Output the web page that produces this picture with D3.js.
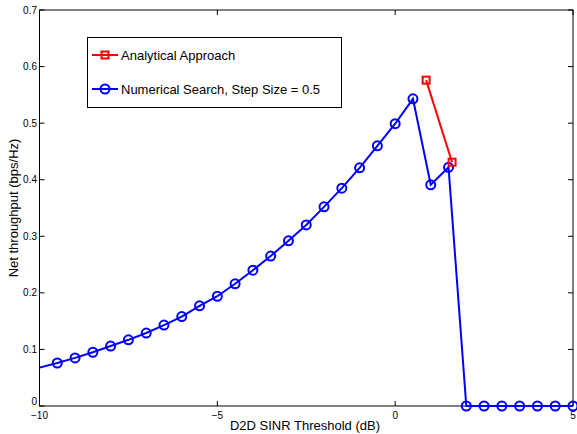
<!DOCTYPE html>
<html><head><meta charset="utf-8">
<script src="https://cdn.jsdelivr.net/npm/d3@7"></script>
<style>body{margin:0;background:#fff}svg{display:block}text{font-family:"Liberation Sans",Arial,sans-serif;fill:#000}</style>
</head><body><svg id="c" width="577" height="434"></svg>
<script>
const numX = [-10.5,-9.5,-9,-8.5,-8,-7.5,-7,-6.5,-6,-5.5,-5,-4.5,-4,-3.5,-3,-2.5,-2,-1.5,-1,-0.5,0,0.5,1,1.5,2,2.5,3,3.5,4,4.5,5];
const numY = [0.060,0.076,0.085,0.095,0.106,0.117,0.129,0.143,0.158,0.177,0.194,0.216,0.240,0.265,0.292,0.320,0.352,0.385,0.421,0.460,0.499,0.543,0.391,0.422,0,0,0,0,0,0,0];
const anaX = [0.87,1.6];
const anaY = [0.576,0.431];
const xTicks = [-10,-5,0,5];
const yTicks = [0,0.1,0.2,0.3,0.4,0.5,0.6,0.7];
const legendLabels = ["Analytical Approach","Numerical Search, Step Size = 0.5"];

const L=39.5,R=573,T=10,B=406;
const svg=d3.select("#c");
const x=d3.scaleLinear().domain([-10,5]).range([L,R]);
const y=d3.scaleLinear().domain([0,0.7]).range([B,T]);
svg.append("defs").append("clipPath").attr("id","cp").append("rect")
  .attr("x",L).attr("y",0).attr("width",R-L+12).attr("height",434);

svg.append("rect").attr("x",L).attr("y",T).attr("width",R-L).attr("height",B-T)
  .attr("fill","none").attr("stroke","#000").attr("stroke-width",1);
const g=svg.append("g");
xTicks.forEach(t=>{
  g.append("line").attr("x1",x(t)).attr("x2",x(t)).attr("y1",B).attr("y2",B-5).attr("stroke","#000");
  g.append("line").attr("x1",x(t)).attr("x2",x(t)).attr("y1",T).attr("y2",T+5).attr("stroke","#000");
  g.append("text").attr("x",x(t)).attr("y",B+13).attr("text-anchor","middle").attr("font-size",10)
   .text(t<0?"\u2212"+(-t):t);
});
yTicks.forEach(t=>{
  g.append("line").attr("x1",L).attr("x2",L+5).attr("y1",y(t)).attr("y2",y(t)).attr("stroke","#000");
  g.append("line").attr("x1",R).attr("x2",R-5).attr("y1",y(t)).attr("y2",y(t)).attr("stroke","#000");
  g.append("text").attr("x",L-2.5).attr("y",y(t)+(t===0?-1:3.5)).attr("text-anchor","end").attr("font-size",10)
   .text(t===0?"0":d3.format(".1f")(t));
});
svg.append("text").attr("x",305).attr("y",430).attr("text-anchor","middle").attr("font-size",13).text("D2D SINR Threshold (dB)");
svg.append("text").attr("transform",`translate(18,${(T+B)/2}) rotate(-90)`).attr("text-anchor","middle").attr("font-size",13).text("Net throughput (bps/Hz)");

const line=d3.line().x(d=>x(d[0])).y(d=>y(d[1]));
const plot=svg.append("g").attr("clip-path","url(#cp)");
const num=numX.map((v,i)=>[v,numY[i]]);
const ana=anaX.map((v,i)=>[v,anaY[i]]);
plot.append("path").attr("d",line(num)).attr("fill","none").attr("stroke","#0000ff").attr("stroke-width",2);
plot.selectAll("circle.n").data(num).enter().append("circle").attr("cx",d=>x(d[0])).attr("cy",d=>y(d[1]))
  .attr("r",4.5).attr("fill","none").attr("stroke","#0000ff").attr("stroke-width",2);
plot.append("path").attr("d",line(ana)).attr("fill","none").attr("stroke","#ff0000").attr("stroke-width",2);
plot.selectAll("rect.a").data(ana).enter().append("rect").attr("x",d=>x(d[0])-3.5).attr("y",d=>y(d[1])-3.5)
  .attr("width",7).attr("height",7).attr("fill","none").attr("stroke","#ff0000").attr("stroke-width",2);

const lg=svg.append("g");
lg.append("rect").attr("x",87.5).attr("y",37.5).attr("width",254).attr("height",70).attr("fill","#fff").attr("stroke","#000");
const ly=[55,89],cols=["#ff0000","#0000ff"];
ly.forEach((yy,i)=>{
  lg.append("line").attr("x1",92).attr("x2",118).attr("y1",yy).attr("y2",yy).attr("stroke",cols[i]).attr("stroke-width",2);
  if(i===0) lg.append("rect").attr("x",101.5).attr("y",yy-3.5).attr("width",7).attr("height",7).attr("fill","none").attr("stroke",cols[i]).attr("stroke-width",2);
  else lg.append("circle").attr("cx",105).attr("cy",yy).attr("r",4.5).attr("fill","none").attr("stroke",cols[i]).attr("stroke-width",2);
  lg.append("text").attr("x",121).attr("y",yy+4.5).attr("font-size",13).text(legendLabels[i]);
});
</script></body></html>
